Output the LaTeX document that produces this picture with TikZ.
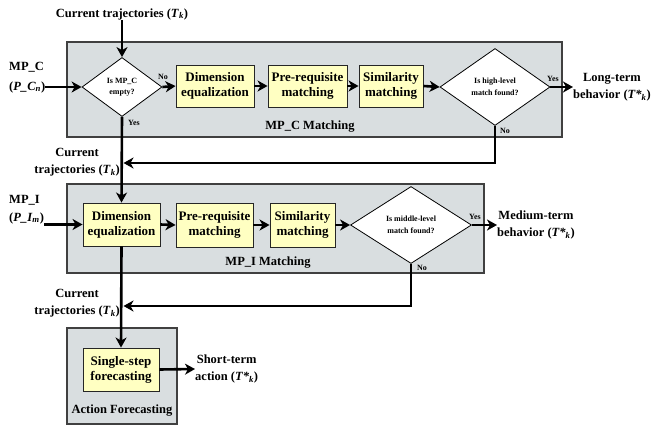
\documentclass[tikz,border=0pt]{standalone}
\usepackage{fontspec}
\setmainfont{Liberation Serif}
\usetikzlibrary{shapes.geometric,arrows.meta}
\definecolor{contfill}{RGB}{217,222,224}
\definecolor{boxfill}{RGB}{255,255,194}
\newcommand{\Tk}{\textit{T}\textsubscript{\textit{k}}}
\newcommand{\Tsk}{\textit{T*}\textsubscript{\textit{k}}}
\begin{document}
\begin{tikzpicture}[x=1pt,y=-1pt,
 container/.style={draw=black!75,line width=1.2pt,fill=contfill},
 procbox/.style={draw=black!85,line width=0.9pt,fill=boxfill,font=\bfseries\fontsize{13}{15}\selectfont,align=center,inner sep=0pt},
 decision/.style={diamond,draw=black,line width=0.8pt,fill=white,font=\bfseries\fontsize{8}{11.5}\selectfont,align=center,inner sep=0pt},
 lbl/.style={font=\bfseries\fontsize{12.5}{17}\selectfont,align=center,inner sep=0pt},
 small/.style={font=\bfseries\fontsize{8}{9}\selectfont,inner sep=0pt},
 flow/.style={line width=2.6pt,-{Stealth[length=10pt,width=11pt,inset=3pt]}},
 fb/.style={line width=2.6pt,line join=miter,-{Stealth[length=10pt,width=11pt,inset=3pt]}},
 ]
\useasboundingbox (0,0) rectangle (671,428);

% containers
\draw[container] (67,42) rectangle (562,137);
\draw[container] (67,184) rectangle (484,273);
\draw[container] (67,328) rectangle (177,424);
\node[lbl] (c1lbl) at (310,127) {MP\_C Matching};
\node[lbl] (c2lbl) at (268,263) {MP\_I Matching};
\node[lbl] (c3lbl) at (122,411) {Action Forecasting};

% top input
\node[lbl] (t1) at (122,14) {Current trajectories (\Tk)};
\node[lbl,anchor=west] (mpc1) at (9,67) {MP\_C};
\node[lbl,anchor=west] (mpc2) at (9,87) {(\textit{P\_C}\textsubscript{\textit{n}})};

% row 1
\node[decision,minimum width=80pt,minimum height=59pt] (d1) at (122,87) {Is MP\_C\\empty?};
\node[procbox,minimum width=78pt,minimum height=42pt] (b1) at (215,86) {Dimension\\equalization};
\node[procbox,minimum width=79pt,minimum height=42pt] (b2) at (307.5,86) {Pre-requisite\\matching};
\node[procbox,minimum width=64pt,minimum height=42pt] (b3) at (391,86) {Similarity\\matching};
\node[decision,minimum width=110pt,minimum height=77pt] (d2) at (495,87) {Is high-level\\match found?};
\node[lbl,anchor=west] (out1) at (573,87) {Long-term\\behavior (\Tsk)};

% row 2
\node[lbl,anchor=west] (mpi1) at (9,200) {MP\_I};
\node[lbl,anchor=west] (mpi2) at (9,218) {(\textit{P\_I}\textsubscript{\textit{m}})};
\node[procbox,minimum width=77pt,minimum height=43pt] (b4) at (121.5,224.5) {Dimension\\equalization};
\node[procbox,minimum width=77pt,minimum height=44pt] (b5) at (214.5,225) {Pre-requisite\\matching};
\node[procbox,minimum width=65pt,minimum height=44pt] (b6) at (302.5,225) {Similarity\\matching};
\node[decision,minimum width=121pt,minimum height=77pt] (d3) at (411,225) {Is middle-level\\match found?};
\node[lbl,anchor=west] (out2) at (497,225) {Medium-term\\behavior (\Tsk)};

% row 3
\node[procbox,minimum width=76pt,minimum height=43pt] (b7) at (121,369.5) {Single-step\\forecasting};
\node[lbl,anchor=west] (out3) at (195,369) {Short-term\\action (\Tsk)};

% feedback labels
\node[lbl,anchor=east] (cur2) at (120,162) {Current\\trajectories (\Tk)};
\node[lbl,anchor=east] (cur3) at (120,303) {Current\\trajectories (\Tk)};
\coordinate (j1) at (123.5,163);
\coordinate (j2) at (123.5,306);
\coordinate (k1) at (495,163);
\coordinate (k2) at (411,306);

% small yes/no
\node[small] (no1) at (163,77) {No};
\node[small] (yes1) at (134,123) {Yes};
\node[small] (yes2) at (553,79) {Yes};
\node[small] (no2) at (505,131) {No};
\node[small] (yes3) at (475,217) {Yes};
\node[small] (no3) at (422,268) {No};

% connectors
\draw[flow] (t1.south) -- (d1.north);
\draw[flow] (mpc2.east) -- (d1.west);
\draw[flow] (d1.east) -- (b1.west);
\draw[flow] (b1.east) -- (b2.west);
\draw[flow] (b2.east) -- (b3.west);
\draw[flow] (b3.east) -- (d2.west);
\draw[flow] (d2.east) -- (out1.west);
\draw[flow] (d1.south) -- (b4.north);
\draw[fb] (d2.south) -- (k1) -- (j1);
\draw[flow] (mpi2.east |- b4.west) -- (b4.west);
\draw[flow] (b4.east) -- (b5.west);
\draw[flow] (b5.east) -- (b6.west);
\draw[flow] (b6.east) -- (d3.west);
\draw[flow] (d3.east) -- (out2.west);
\draw[flow] (b4.south) -- (b7.north);
\draw[fb] (d3.south) -- (k2) -- (j2);
\draw[flow] (b7.east) -- (out3.west);
\end{tikzpicture}
\end{document}
